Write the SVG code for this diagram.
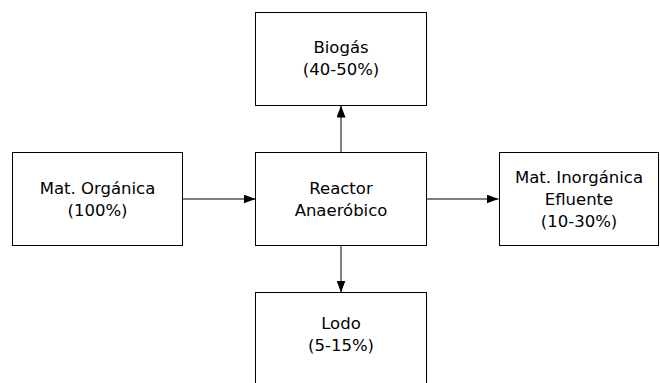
<svg xmlns="http://www.w3.org/2000/svg" width="660" height="383" viewBox="0 0 660 383">
  <defs>
    <marker id="arrow" markerWidth="12" markerHeight="9" refX="12" refY="4.5" orient="auto" markerUnits="userSpaceOnUse">
      <path d="M0,0 L12,4.5 L0,9 Z" fill="#000"/>
    </marker>
    <style>
      .box { fill: #fff; stroke: #000; stroke-width: 1; }
      .lbl { font-family: "DejaVu Sans", Verdana, sans-serif; font-size: 16.5px; fill: #000; text-anchor: middle; }
      .edge { stroke: #000; stroke-width: 1; fill: none; marker-end: url(#arrow); }
    </style>
  </defs>
  <rect width="660" height="383" fill="#fff"/>

  <g id="edges">
    <line class="edge" x1="341" y1="152" x2="341" y2="105.5"/>
    <line class="edge" x1="182" y1="199" x2="255.5" y2="199"/>
    <line class="edge" x1="426" y1="199" x2="498.5" y2="199"/>
    <line class="edge" x1="341" y1="246" x2="341" y2="292.5"/>
  </g>

  <g id="biogas">
    <rect class="box" x="255.5" y="12.5" width="171" height="93"/>
    <text class="lbl" x="341" y="53">Biogás</text>
    <text class="lbl" x="341" y="75">(40-50%)</text>
  </g>

  <g id="materia-organica">
    <rect class="box" x="12.5" y="152.5" width="170" height="93"/>
    <text class="lbl" x="97.5" y="193.5">Mat. Orgánica</text>
    <text class="lbl" x="97.5" y="215.5">(100%)</text>
  </g>

  <g id="reactor">
    <rect class="box" x="255.5" y="152.5" width="171" height="93"/>
    <text class="lbl" x="341" y="193.5">Reactor</text>
    <text class="lbl" x="341" y="215.5">Anaeróbico</text>
  </g>

  <g id="efluente">
    <rect class="box" x="499.5" y="152.5" width="159" height="93"/>
    <text class="lbl" x="579" y="182.5">Mat. Inorgánica</text>
    <text class="lbl" x="579" y="204.5">Efluente</text>
    <text class="lbl" x="579" y="226.5">(10-30%)</text>
  </g>

  <g id="lodo">
    <rect class="box" x="255.5" y="292.5" width="171" height="100"/>
    <text class="lbl" x="341" y="329">Lodo</text>
    <text class="lbl" x="341" y="351">(5-15%)</text>
  </g>
</svg>
